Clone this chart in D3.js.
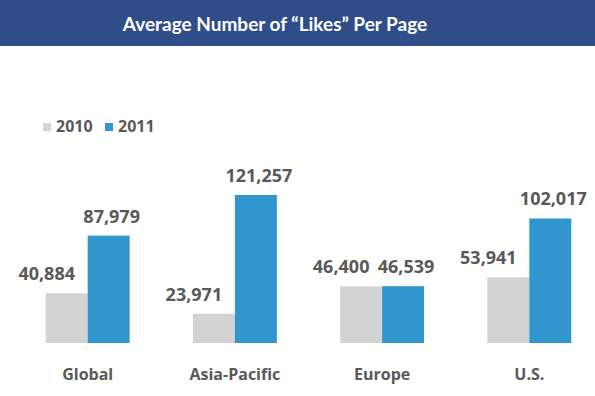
<!DOCTYPE html>
<html>
<head>
<meta charset="utf-8">
<script src="https://cdn.jsdelivr.net/npm/d3@7"></script>
<style>
  body { margin: 0; background: #fff; }
  text { font-family: "Open Sans", sans-serif; font-weight: bold; }
</style>
</head>
<body>
<svg></svg>
<script>
var width = 595;
var height = 396;

var categories = ["Global", "Asia-Pacific", "Europe", "U.S."];
var years = ["2010", "2011"];
var values2010 = [40884, 23971, 46400, 53941];
var values2011 = [87979, 121257, 46539, 102017];
var colors = ["#d3d3d3", "#3196cd"];

var svg = d3.select("svg")
            .attr("width", width)
            .attr("height", height);

// title banner
svg.append("rect")
    .attr("x", 0).attr("y", 0)
    .attr("width", width).attr("height", 46)
    .attr("fill", "#2f4d88");

svg.append("text")
    .attr("x", 275)
    .attr("y", 31)
    .attr("text-anchor", "middle")
    .attr("fill", "#fff")
    .style("font-family", "Lato, sans-serif")
    .style("font-size", "19px")
    .text("Average Number of \u201CLikes\u201D Per Page");

var xScale = d3.scaleBand()
                .domain(categories)
                .range([31, 586])
                .paddingInner(0.43)
                .paddingOuter(0.1);

var xSub = d3.scaleBand()
                .domain(years)
                .range([0, xScale.bandwidth()]);

var yScale = d3.scaleLinear()
                .domain([0, 121257])
                .range([343, 195]);

var rows = [];
categories.forEach(function(c, i) {
    rows.push({cat: c, year: "2010", value: values2010[i], s: 0});
    rows.push({cat: c, year: "2011", value: values2011[i], s: 1});
});

svg.selectAll("rect.bar")
    .data(rows)
    .enter()
    .append("rect")
        .attr("class", "bar")
        .attr("x", d => xScale(d.cat) + xSub(d.year))
        .attr("y", d => yScale(d.value))
        .attr("width", xSub.bandwidth())
        .attr("height", d => yScale(0) - yScale(d.value))
        .attr("fill", d => colors[d.s]);

// value labels (2010 labels sit a bit to the left in the original)
svg.selectAll("text.val")
    .data(rows)
    .enter()
    .append("text")
        .attr("class", "val")
        .attr("x", d => xScale(d.cat) + xSub(d.year) + xSub.bandwidth() / 2 + (d.s === 0 ? -20 : 3))
        .attr("y", d => yScale(d.value) - 13)
        .attr("text-anchor", "middle")
        .attr("fill", "#595959")
        .style("font-size", "18px")
        .text(d => d3.format(",")(d.value));

// category labels
svg.append("g")
    .attr("transform", "translate(0, 343)")
    .call(d3.axisBottom(xScale).tickSize(0).tickPadding(26))
    .call(g => g.select(".domain").remove())
    .selectAll("text")
        .attr("fill", "#595959")
        .style("font-family", "'Open Sans', sans-serif")
        .style("font-weight", "bold")
        .style("font-size", "16px");

// legend
var legend = svg.append("g")
    .selectAll("g")
    .data(years)
    .enter()
    .append("g")
        .attr("transform", (d, i) => "translate(" + (43 + i * 62) + ", 123)");

legend.append("rect")
    .attr("width", 8).attr("height", 8)
    .attr("fill", (d, i) => colors[i]);

legend.append("text")
    .attr("x", 13)
    .attr("y", 9)
    .attr("fill", "#595959")
    .style("font-size", "16px")
    .text(d => d);
</script>
</body>
</html>
